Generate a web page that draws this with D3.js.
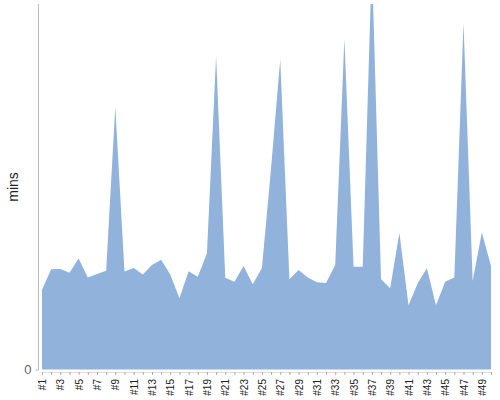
<!DOCTYPE html>
<html>
<head>
<meta charset="utf-8">
<script src="https://cdn.jsdelivr.net/npm/d3@7"></script>
<style>
  html, body { margin: 0; padding: 0; background: #fff; }
  svg { display: block; font-family: "Liberation Sans", Arial, sans-serif; }
</style>
</head>
<body>
<svg id="chart" width="500" height="400"></svg>
<script>
// Data
const categories = d3.range(1, 51).map(i => "#" + i);
const minutes = [
  21.8, 27.4, 27.5, 26.5, 30.4, 25.2, 26.1, 27.0, 71.9, 26.8,
  27.8, 26.0, 28.6, 30.0, 26.0, 19.5, 26.9, 25.4, 31.8, 85.8,
  25.1, 24.0, 28.3, 23.3, 27.8, 55.1, 84.9, 24.7, 27.2, 25.2,
  23.9, 23.7, 28.6, 90.6, 28.1, 28.1, 112, 24.7, 22.2, 37.4,
  17.6, 23.6, 27.7, 17.6, 24.0, 25.2, 94.9, 24.2, 37.5, 28.3
];
const yTicks = [0];
const xLabels = categories.filter((d, i) => i % 2 === 0);

const svg = d3.select("#chart");
const x = d3.scalePoint().domain(categories).range([42, 491]);
const y = d3.scaleLinear().domain([0, 100]).range([369.5, 4]);

svg.append("defs").append("clipPath").attr("id", "clip")
  .append("rect").attr("x", 38).attr("y", 4).attr("width", 460).attr("height", 366);

const area = d3.area()
  .x((d, i) => x(categories[i]))
  .y0(y(0))
  .y1(d => y(d));

svg.append("path")
  .datum(minutes)
  .attr("clip-path", "url(#clip)")
  .attr("fill", "#91b3db")
  .attr("d", area);

// Y axis
const yAxis = svg.append("g").attr("transform", "translate(38.5,0)")
  .call(d3.axisLeft(y).tickValues(yTicks).tickSize(3).tickFormat(d3.format("d")));
yAxis.select(".domain").attr("stroke", "#bbb").attr("d", "M0,4V370");
yAxis.selectAll(".tick line").attr("stroke", "#bbb");
yAxis.selectAll(".tick text").attr("fill", "#666").attr("font-size", 13)
  .attr("font-family", "Liberation Sans, Arial, sans-serif").attr("x", -7);

// X axis
const xAxis = svg.append("g").attr("transform", "translate(0,372)")
  .call(d3.axisBottom(x).tickSize(3).tickSizeOuter(0)
    .tickFormat(d => xLabels.includes(d) ? d : ""));
xAxis.select(".domain").attr("stroke", "#ddd");
xAxis.selectAll(".tick line").attr("stroke", "#aaa");
xAxis.selectAll(".tick text")
  .attr("font-size", 10)
  .attr("font-family", "Liberation Sans, Arial, sans-serif")
  .attr("fill", "#222")
  .attr("text-anchor", "end")
  .attr("transform", "rotate(-90)")
  .attr("x", -7)
  .attr("y", 0)
  .attr("dy", "0.35em");

// Y label
svg.append("text")
  .attr("transform", "translate(18,187) rotate(-90)")
  .attr("text-anchor", "middle")
  .attr("font-size", 14)
  .attr("fill", "#222")
  .text("mins");
</script>
</body>
</html>
